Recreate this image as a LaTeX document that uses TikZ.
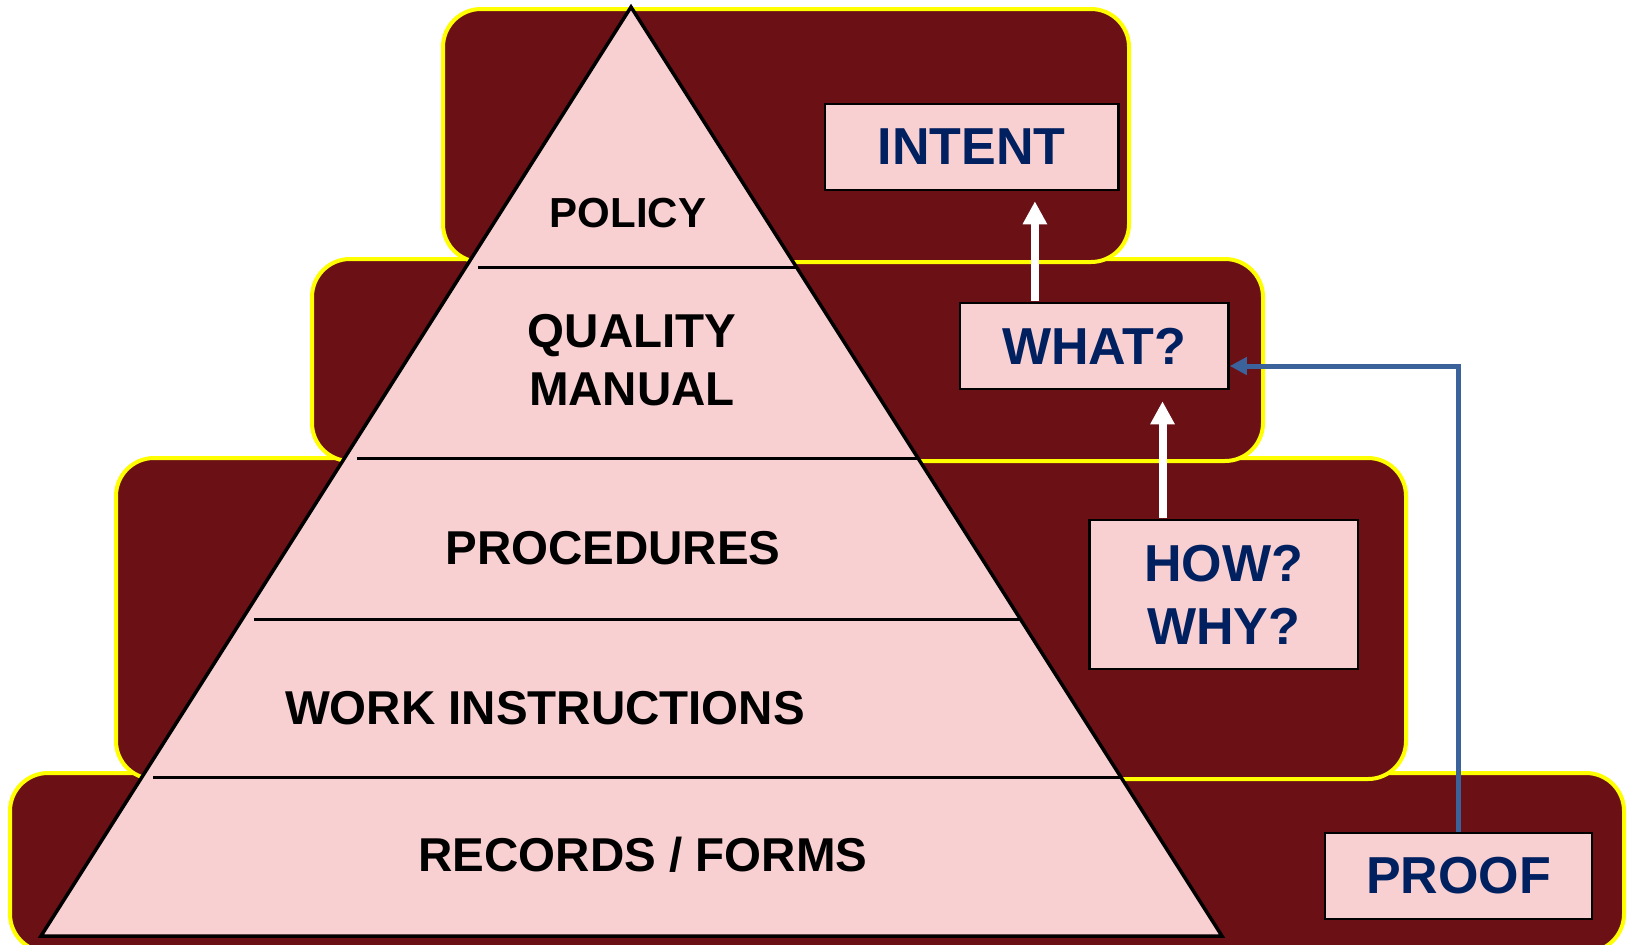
\documentclass[tikz,border=0pt]{standalone}
\usepackage{fontspec}
\setmainfont{Liberation Sans}
\usetikzlibrary{calc,arrows.meta}
\definecolor{panelred}{RGB}{107,16,21}
\definecolor{pyramidpink}{RGB}{248,208,210}
\definecolor{panelyellow}{RGB}{255,255,0}
\definecolor{asknavy}{RGB}{0,32,96}
\definecolor{proofblue}{RGB}{59,98,155}
\begin{document}
\begin{tikzpicture}[x = 0.5pt, y = -0.5pt,
		panel/.style = {fill = panelred, draw = panelyellow, line width = 2pt, rounded corners = 19pt},
		layer/.style = {font = \bfseries\fontsize{23.75}{29}\selectfont, align = center},
		askbox/.style = {draw = black, fill = pyramidpink, line width = 1.25pt, inner sep = 0pt, text = asknavy, align = center, font = \bfseries\fontsize{26}{31.5}\selectfont},
		upflow/.style = {white, line width = 4pt, shorten < = 0.6pt, -{Triangle[width = 11.5pt, length = 11.5pt]}},
		proofline/.style = {proofblue, line width = 2.5pt, -{Triangle[width = 8.5pt, length = 8.5pt]}}]
					\useasboundingbox (0, 0) rectangle (1627, 944);
					\draw[panel] (10, 773) rectangle (1624, 952);
					\draw[panel] (116, 458) rectangle (1406, 779);
					\draw[panel] (312, 259) rectangle (1263, 461);
					\draw[panel] (443, 9) rectangle (1129, 262);
					\coordinate (apex) at (631, 7);
					\coordinate (baseL) at (41, 936);
					\coordinate (baseR) at (1222, 936);
					\draw[fill = pyramidpink, line width = 1.75pt] (apex) -- (baseL) -- (baseR) -- cycle;
					\foreach \t in {0.2799, 0.4855, 0.6588, 0.8299}
						\draw[line width = 1.5pt, shorten < = 6pt] ($(apex)!\t!(baseL)$) -- ($(apex)!\t!(baseR)$);
					\node[layer, font = \bfseries\fontsize{21}{25}\selectfont] (policy) at (628, 213) {POLICY};
					\node[layer] (manual) at (632, 360) {QUALITY\\MANUAL};
					\node[layer] (procedures) at (613, 548) {PROCEDURES};
					\node[layer] (workinstr) at (545, 708) {WORK INSTRUCTIONS};
					\node[layer] (records) at (643, 855) {RECORDS / FORMS};
					\node[askbox, minimum width = 146.75pt, minimum height = 43pt] (intent) at (971.75, 147) {INTENT};
					\node[askbox, minimum width = 134.25pt, minimum height = 43pt] (what) at (1094.25, 346) {WHAT?};
					\node[askbox, minimum width = 134.25pt, minimum height = 74.5pt] (howwhy) at (1223.75, 594.5) {HOW?\\WHY?};
					\node[askbox, minimum width = 133.5pt, minimum height = 43pt] (proof) at (1458.5, 876) {PROOF};
					\coordinate (up1) at ($(what.north west)!0.281!(what.north east)$);
					\coordinate (up2) at ($(howwhy.north west)!0.274!(howwhy.north east)$);
					\draw[upflow, shorten > = 5pt] (up1) -- (up1 |- intent.south);
					\draw[upflow, shorten > = 5.5pt] (up2) -- (up2 |- what.south);
					\draw[proofline] (proof.north) |- ([yshift = -10pt]what.east);
				\end{tikzpicture}
\end{document}
